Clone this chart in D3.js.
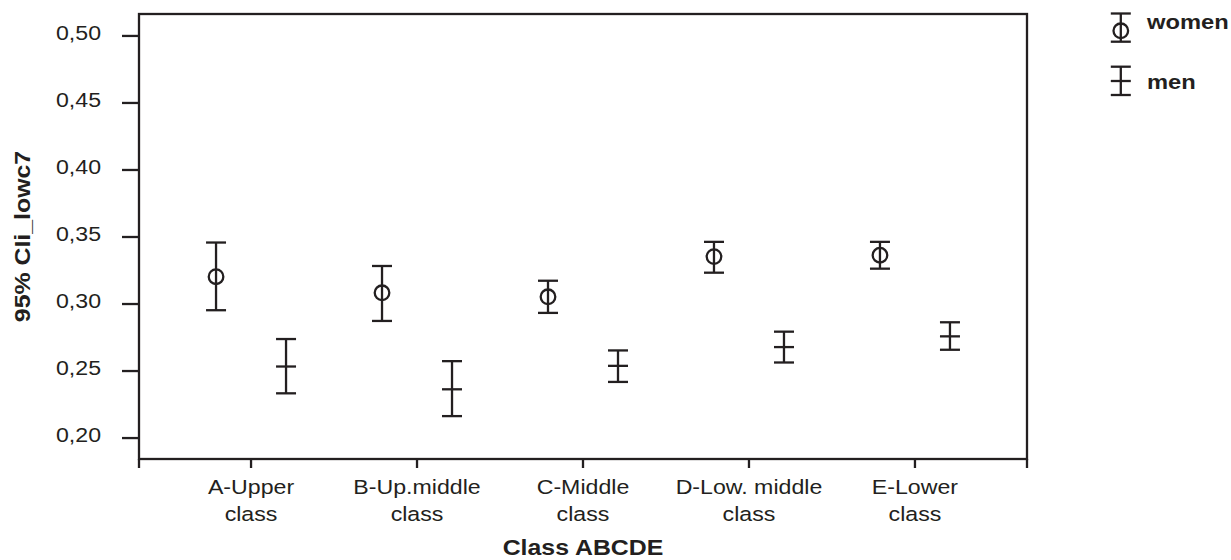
<!DOCTYPE html>
<html>
<head>
<meta charset="utf-8">
<script src="https://cdn.jsdelivr.net/npm/d3@7"></script>
<style>
  html, body { margin: 0; padding: 0; background: #fff; }
  svg { display: block; font-family: "Liberation Sans", Arial, sans-serif; }
</style>
</head>
<body>
<svg id="chart" width="1231" height="560"></svg>
<script>
// ---- Data ----
const categories = ["A-Upper class", "B-Up.middle class", "C-Middle class", "D-Low. middle class", "E-Lower class"];
const categoryLines = [["A-Upper", "class"], ["B-Up.middle", "class"], ["C-Middle", "class"], ["D-Low. middle", "class"], ["E-Lower", "class"]];
const seriesNames = ["women", "men"];
const womenMean  = [0.320, 0.308, 0.305, 0.335, 0.336];
const womenLower = [0.295, 0.287, 0.293, 0.323, 0.326];
const womenUpper = [0.3455, 0.328, 0.317, 0.346, 0.346];
const menMean  = [0.253, 0.236, 0.2535, 0.2675, 0.2755];
const menLower = [0.233, 0.216, 0.2415, 0.256, 0.2655];
const menUpper = [0.2735, 0.257, 0.265, 0.279, 0.286];
const yTicks = [0.20, 0.25, 0.30, 0.35, 0.40, 0.45, 0.50];
const yDomain = [0.184, 0.516];
const yTitle = "95% CIi_lowc7";
const xTitle = "Class ABCDE";

// ---- Layout ----
const ink = "#231f20";
const sx = 1.13; // horizontal stretch of the text glyphs
const pLeft = 139, pRight = 1027, pTop = 14, pBottom = 459;
const svg = d3.select("#chart");

const x = d3.scaleBand().domain(categories).range([pLeft, pRight]).paddingInner(0).paddingOuter(0.175);
const y = d3.scaleLinear().domain(yDomain).range([pBottom, pTop]);
const offset = { women: -35, men: 35 };

// Box
svg.append("rect")
  .attr("x", pLeft).attr("y", pTop)
  .attr("width", pRight - pLeft).attr("height", pBottom - pTop)
  .attr("fill", "none").attr("stroke", ink).attr("stroke-width", 2.3);

// Y axis
const yAxis = d3.axisLeft(y).tickValues(yTicks).tickSize(17).tickPadding(5)
  .tickFormat(d => d3.format(".2f")(d).replace(".", ","));
const yg = svg.append("g").attr("transform", `translate(${pLeft},0)`).call(yAxis);
yg.select(".domain").remove();
yg.selectAll(".tick line").attr("stroke", ink).attr("stroke-width", 2.3);
yg.selectAll(".tick text").attr("fill", ink).style("font-size", "20.5px")
  .attr("dy", "4px").attr("x", -38 / sx).attr("transform", `scale(${sx},1)`);

// X axis ticks (below box) at category centers plus box ends
const xAxis = d3.axisBottom(x).tickSize(9).tickFormat("");
const xg = svg.append("g").attr("transform", `translate(0,${pBottom})`).call(xAxis);
xg.select(".domain").remove();
xg.selectAll(".tick line").attr("stroke", ink).attr("stroke-width", 2.3);
[pLeft, pRight].forEach(px => {
  xg.append("line").attr("x1", px).attr("x2", px).attr("y1", 0).attr("y2", 9)
    .attr("stroke", ink).attr("stroke-width", 2.3);
});
// Category labels
categories.forEach((c, i) => {
  const cx = (x(c) + x.bandwidth() / 2) / sx;
  const t = svg.append("text")
    .attr("x", cx).attr("y", 494).attr("transform", `scale(${sx},1)`)
    .attr("text-anchor", "middle").attr("fill", ink).style("font-size", "20.5px");
  categoryLines[i].forEach((ln, j) => {
    t.append("tspan").attr("x", cx).attr("dy", j === 0 ? 0 : 27).text(ln);
  });
});

// Titles
svg.append("text").attr("x", 583 / sx).attr("y", 555).attr("transform", `scale(${sx},1)`)
  .attr("text-anchor", "middle")
  .attr("fill", ink).style("font-size", "22px").style("font-weight", "bold").text(xTitle);
svg.append("text").attr("transform", `translate(30,236.5) rotate(-90) scale(${sx},1)`)
  .attr("text-anchor", "middle")
  .attr("fill", ink).style("font-size", "22px").style("font-weight", "bold").text(yTitle);

// Error bars
const capHalf = 10;
function drawBar(g, cx, yLo, yHi, yMid, kind) {
  g.append("line").attr("x1", cx).attr("x2", cx).attr("y1", yLo).attr("y2", yHi);
  g.append("line").attr("x1", cx - capHalf).attr("x2", cx + capHalf).attr("y1", yLo).attr("y2", yLo);
  g.append("line").attr("x1", cx - capHalf).attr("x2", cx + capHalf).attr("y1", yHi).attr("y2", yHi);
  if (kind === "women") {
    g.append("circle").attr("cx", cx).attr("cy", yMid).attr("r", 7.3).attr("fill", "none");
  } else {
    g.append("line").attr("x1", cx - capHalf).attr("x2", cx + capHalf).attr("y1", yMid).attr("y2", yMid);
  }
}
const marks = svg.append("g").attr("stroke", ink).attr("stroke-width", 2.3).attr("fill", "none");
const series = {
  women: { mean: womenMean, lo: womenLower, hi: womenUpper },
  men: { mean: menMean, lo: menLower, hi: menUpper }
};
seriesNames.forEach(s => {
  categories.forEach((c, i) => {
    const cx = x(c) + x.bandwidth() / 2 + offset[s];
    drawBar(marks, cx, y(series[s].lo[i]), y(series[s].hi[i]), y(series[s].mean[i]), s);
  });
});

// Legend
const leg = svg.append("g");
const legItems = [
  { name: "women", hi: 13.5, lo: 41.7, mid: 30.8, base: 29.3 },
  { name: "men", hi: 66.7, lo: 95, mid: 81, base: 89.3 }
];
legItems.forEach(it => {
  const g = leg.append("g").attr("stroke", ink).attr("stroke-width", 2.3).attr("fill", "none");
  drawBar(g, 1120.8, it.lo, it.hi, it.mid, it.name);
  leg.append("text").attr("x", 1147 / sx).attr("y", it.base).attr("transform", `scale(${sx},1)`)
    .attr("fill", ink).style("font-size", "21px").style("font-weight", "bold").text(it.name);
});
</script>
</body>
</html>
